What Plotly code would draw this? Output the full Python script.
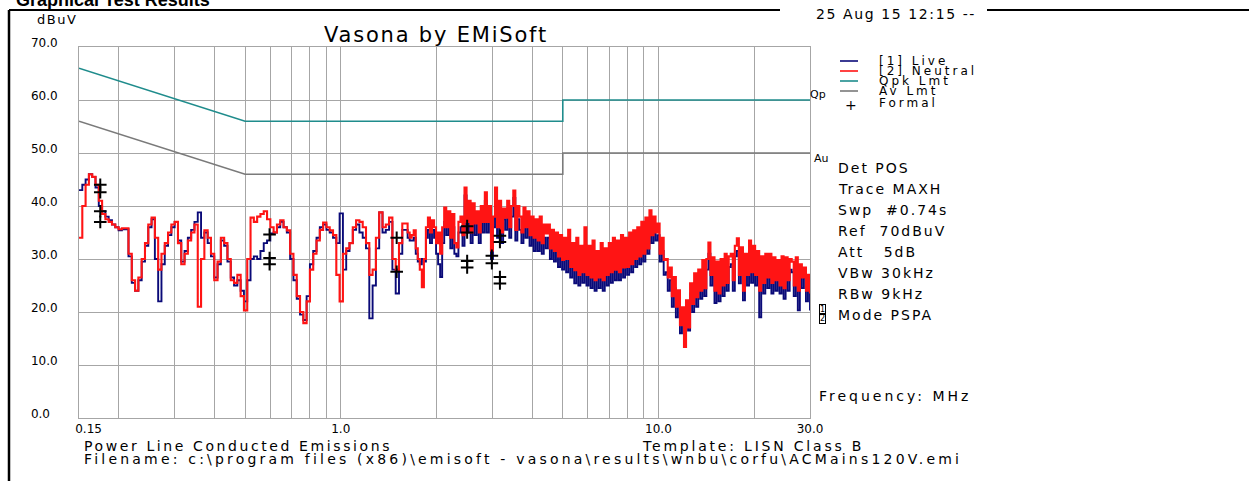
import numpy as np
import plotly.graph_objects as go

# Measured levels (dBuV).  The sweep is stored in two log-uniform parts:
# 0.15-1.6 MHz (coarse) and 1.6-30 MHz (fine).
live_low_dbuv = [
    43, 44, 45, 46, 45.5, 43.5, 40, 39, 38, 37.3,
    36.5, 36, 35.4, 35.6, 35.6, 30.5, 25.5, 24, 26, 29.5,
    32.5, 36, 37.5, 30, 22, 29, 32.5, 34.5, 36, 37,
    33.5, 29.5, 31.5, 34, 35.5, 37, 38.8, 34, 35, 33,
    30.5, 26.5, 29, 33.5, 32.5, 29.5, 26.5, 25, 26, 24,
    22, 26, 30, 30.5, 30, 31.5, 33, 33.5, 34.8, 35,
    36, 37, 36, 35, 30, 26, 22.5, 19.5, 18.5, 23,
    29, 31.5, 34, 36, 36.5, 35.5, 35, 34, 33, 38.6,
    28, 31.5, 33, 35.5, 36.5, 35, 34, 32, 18.8, 25,
    32, 38.8, 35, 35.5, 37, 28, 23.5, 31, 35.5, 35.5,
]
neutral_low_dbuv = [
    34, 40, 44, 46, 45.5, 44, 41, 38.5, 37.5, 37,
    36.5, 36, 35.6, 35.8, 35.8, 31, 26, 24, 26.5, 30,
    33, 36.5, 37.8, 34, 28, 31, 33, 35, 36.5, 37,
    33, 29, 31, 33.5, 35, 36.5, 21, 30, 35.4, 34,
    31, 26, 29.5, 34, 33, 30, 26, 25.5, 27, 23,
    20.3, 30, 37.8, 37, 38, 38.5, 39, 37.5, 36, 35,
    36.5, 37.3, 36, 35.4, 31, 27, 23, 20, 17.9, 22,
    28, 31, 33.5, 35.5, 36.9, 36, 35.4, 34.5, 27, 22,
    31, 32, 33, 36, 37.3, 37, 36, 33, 27, 28,
    34, 38.8, 36, 36.5, 37.8, 30, 28, 33, 36.7, 36.7,
]
live_high_dbuv = [
    35.5, 34, 33.5, 33.5, 34, 31, 29.5, 29, 30, 29.5,
    34, 35.5, 33, 35.5, 34, 31, 29, 26.6, 33, 37,
    34.5, 37, 32, 36, 31, 30.5, 35, 36, 32.5, 42,
    35, 39, 33, 38, 34.5, 37, 33, 38, 35, 41,
    35, 38, 30, 36, 41.5, 34, 39, 33, 37.5, 35.5,
    39, 34, 38, 41.5, 33.5, 37.5, 35.5, 33, 37.5, 34,
    36.5, 32.5, 35.5, 31.5, 35, 31.5, 35.5, 31, 34, 32,
    34, 30, 33, 29.5, 32.5, 28.5, 32, 28, 31.5, 27.5,
    32.5, 26.5, 30.5, 25.4, 31, 25, 30, 25.5, 32.5, 25,
    30, 24.5, 30.5, 24, 29, 24.5, 30.5, 24, 29.5, 25,
    30.5, 25.5, 31.5, 26, 31, 26, 32, 26.5, 31.5, 27,
    32.5, 27.5, 33, 28.5, 34, 29, 35, 29.5, 35.5, 31,
    37.5, 33, 36, 33.5, 34.5, 29.5, 31.5, 27, 27.5, 24,
    26, 21, 24.5, 19, 22, 16, 19, 14, 20.5, 16.5,
    23.5, 20, 25.5, 21, 26, 22.5, 27.5, 23, 28, 31,
    25, 28, 21.7, 27.5, 22, 28, 23, 29, 24, 28.5,
    29, 24, 30.5, 31.5, 25.4, 30, 22.2, 29, 25, 31,
    25.5, 30, 25, 29, 19, 28.5, 23.5, 29, 24.5, 28.5,
    23.5, 28, 24, 27.5, 23.5, 28.5, 22.5, 28, 24, 28,
    27.5, 23, 28.5, 20.3, 27, 24.5, 26.5, 22, 25, 20.3,
]
neutral_high_dbuv = [
    36.7, 35, 34, 34.5, 35.4, 32, 30, 28, 24.7, 30,
    36, 37.8, 35, 37.3, 36, 33, 35, 31, 36, 39.7,
    36, 39, 34, 38.5, 33, 32.2, 37, 38, 34.5, 43.5,
    37, 41, 35, 40.5, 36.7, 39, 35, 40, 37, 42.6,
    37, 40, 31.6, 38, 43.5, 36, 41, 35, 39.5, 37.8,
    41, 36, 40, 42.9, 35.5, 40, 38, 35, 39.7, 36,
    39, 34.5, 38, 34, 37.5, 33.5, 38, 33, 36.5, 34.8,
    36.5, 32, 35.5, 31.5, 35, 30.5, 34.5, 29.8, 34, 30,
    35.5, 28.5, 33, 27.9, 34, 27, 32.5, 27.5, 36, 27,
    32.5, 26.5, 33.5, 26, 31.5, 26.5, 33, 26, 32, 27,
    33, 27.5, 34, 28, 33.5, 27.5, 34.5, 28.4, 34, 28.5,
    35, 29, 35.4, 30, 36, 30.5, 37, 31, 37.8, 32,
    39.2, 34.5, 38, 35, 36.7, 31, 34, 29.8, 30, 26.5,
    28.4, 23, 26.6, 21, 24.1, 17.5, 20.9, 13.4, 22.2, 17.1,
    25.4, 21.5, 27.3, 22.8, 28, 24, 29.8, 24.5, 30, 33.1,
    27, 30.3, 24, 29.5, 23.5, 30, 25, 31, 25.5, 30.5,
    31, 26, 32.5, 33.9, 27, 32.2, 24, 31, 27, 33.5,
    27.5, 32.5, 27, 31.5, 24, 30.5, 25.5, 31, 26.5, 31,
    25.5, 30.3, 26, 29.8, 25, 30.5, 24.5, 30.3, 26, 30,
    29.5, 25, 30.3, 24, 29, 26.5, 28.4, 24, 27, 23.5,
]

# Limit lines (quasi-peak and average)
limit_mhz = [0.15, 0.5, 5.0, 5.0, 30.0]
qpk_limit_dbuv = [66, 56, 56, 60, 60]
avg_limit_dbuv = [56, 46, 46, 50, 50]

# Formal (final) measurements
formal_mhz = [0.175, 0.175, 0.175, 0.175,
              0.597, 0.597, 0.597,
              1.50, 1.50,
              2.50, 2.50, 2.50, 2.50,
              2.99, 2.99,
              3.17, 3.17, 3.17, 3.17]
formal_dbuv = [44.0, 42.6, 39.0, 37.0,
               34.6, 30.2, 29.0,
               34.0, 27.6,
               36.2, 35.0, 29.6, 28.4,
               30.6, 29.2,
               34.4, 33.2, 26.6, 25.4]

# Frequency grid lines and labelled ticks
grid_mhz = [0.15, 0.2, 0.3, 0.4, 0.5, 0.6, 0.7, 0.8, 0.9,
            1, 2, 3, 4, 5, 6, 7, 8, 9, 10, 20, 30]
grid_text = {0.15: "\u00a0" * 5 + "0.15", 1: "1.0", 10: "10.0", 30: "30.0"}
level_ticks = [0, 10, 20, 30, 40, 50, 60, 70]
level_text = ["0.0\u00a0\u00a0", "10.0", "20.0", "30.0", "40.0", "50.0",
              "60.0", "70.0"]

sweep_mhz = np.concatenate([
    np.geomspace(0.15, 1.6, len(live_low_dbuv)),
    np.geomspace(1.6, 30, len(live_high_dbuv)),
])
live_dbuv = live_low_dbuv + live_high_dbuv
neutral_dbuv = neutral_low_dbuv + neutral_high_dbuv

NAVY = "#0a0a78"
RED = "#ff1414"
TEAL = "#1f8c8c"
GREY = "#7a7a7a"
FONT = "DejaVu Sans"

W, H = 1249, 481
L, R, T, B = 79, 439, 47, 63
PW, PH = W - L - R, H - T - B


def px(x):
    return (x - L) / PW


def py(y):
    return (H - B - y) / PH


fig = go.Figure()

fig.add_trace(go.Scatter(x=limit_mhz, y=qpk_limit_dbuv, mode="lines",
                         line=dict(color=TEAL, width=1.6), name="Qpk Lmt"))
fig.add_trace(go.Scatter(x=limit_mhz, y=avg_limit_dbuv, mode="lines",
                         line=dict(color=GREY, width=1.6), name="Av Lmt"))
fig.add_trace(go.Scatter(x=sweep_mhz, y=live_dbuv, mode="lines",
                         line=dict(color=NAVY, width=1.9, shape="hv"),
                         name="[1] Live"))
fig.add_trace(go.Scatter(x=sweep_mhz, y=neutral_dbuv, mode="lines",
                         line=dict(color=RED, width=2.1, shape="hv"),
                         name="[2] Neutral"))
fig.add_trace(go.Scatter(x=formal_mhz, y=formal_dbuv, mode="markers",
                         marker=dict(symbol="cross-thin", size=9,
                                     line=dict(color="black", width=2)),
                         name="Formal"))

fig.update_xaxes(
    type="log", range=[np.log10(0.15), np.log10(30)],
    tickvals=grid_mhz, ticktext=[grid_text.get(v, "") for v in grid_mhz],
    showgrid=True, gridcolor="#a6a6a6", gridwidth=1,
    showline=True, linecolor="#a6a6a6", mirror=True, ticks="",
    tickfont=dict(family=FONT, size=12, color="black"), zeroline=False,
)
fig.update_yaxes(
    range=[0, 70], tickvals=level_ticks, ticktext=level_text,
    showgrid=True, gridcolor="#a6a6a6", gridwidth=1,
    showline=True, linecolor="#a6a6a6", mirror=True, ticks="",
    tickfont=dict(family=FONT, size=12, color="black"), zeroline=False,
    ticklabelshift=-4, ticklabelstandoff=18,
)

# Page frame: top rule (broken behind the time stamp) and left rule
shapes = [
    dict(type="line", xref="paper", yref="paper", x0=px(9), x1=px(780),
         y0=py(10), y1=py(10), line=dict(color="black", width=2)),
    dict(type="line", xref="paper", yref="paper", x0=px(987), x1=px(W),
         y0=py(10), y1=py(10), line=dict(color="black", width=2)),
    dict(type="line", xref="paper", yref="paper", x0=px(9), x1=px(9),
         y0=py(10), y1=py(H + 2), line=dict(color="black", width=2.5)),
]

annotations = []


def label(text, x, y, size=14, spacing=0.0, xanchor="left",
          yanchor="middle", **kw):
    if spacing:
        text = '<span style="letter-spacing:%.1fpx">%s</span>' % (spacing,
                                                                  text)
    annotations.append(dict(text=text, x=px(x), y=py(y), xref="paper",
                            yref="paper", showarrow=False, xanchor=xanchor,
                            yanchor=yanchor,
                            font=dict(family=FONT, size=size, color="black"),
                            **kw))


# Page header (clipped by the page top)
annotations.append(dict(text="<b>Graphical Test Results</b>", x=px(14),
                        y=py(12), xref="paper", yref="paper",
                        showarrow=False, xanchor="left", yanchor="bottom",
                        font=dict(family="Liberation Sans", size=18,
                                  color="black")))

label("25 Aug 15 12:15 --", 814, 14, size=14, spacing=1.6)
label("Vasona by EMiSoft", 436, 35, size=21, spacing=1.8, xanchor="center")
label("dBuV", 35, 19, size=13, spacing=1.5)

# Legend
legend_rows = [("[1] Live", NAVY, 61), ("[2] Neutral", RED, 71),
               ("Qpk Lmt", TEAL, 81), ("Av Lmt", GREY, 91)]
for text, color, y in legend_rows:
    shapes.append(dict(type="line", xref="paper", yref="paper",
                       x0=px(840), x1=px(858), y0=py(y), y1=py(y),
                       line=dict(color=color, width=1.6)))
    label(text, 877, y, size=12, spacing=3.0)
label("+", 851, 105, size=14, xanchor="center")
label("Formal", 877, 103, size=12, spacing=3.0)

label("Qp", 808, 94, size=11)
label("Au", 812, 158, size=11)

settings = ["Det POS", "Trace MAXH", "Swp  #0.74s", "Ref  70dBuV",
            "Att   5dB", "VBw 30kHz", "RBw 9kHz", "Mode PSPA"]
for i, text in enumerate(settings):
    label(text, 836, 168 + 21 * i, size=14, spacing=2.0)
label("1", 822, 309, size=8, xanchor="center", bordercolor="black",
      borderwidth=1, borderpad=0)
label("2", 822, 318, size=8, xanchor="center", bordercolor="black",
      borderwidth=1, borderpad=0)

label("Frequency: MHz", 817, 396, size=14, spacing=3)

label("Power Line Conducted Emissions", 82, 446, size=14, spacing=2.6)
label("Template: LISN Class B", 640, 446, size=14, spacing=2.8)
label("Filename: c:\\program files (x86)\\emisoft - vasona\\results"
      "\\wnbu\\corfu\\ACMains120V.emi", 82, 459, size=14, spacing=3.2)

fig.update_layout(
    width=W, height=H, margin=dict(l=L, r=R, t=T, b=B),
    paper_bgcolor="white", plot_bgcolor="white", showlegend=False,
    shapes=shapes, annotations=annotations,
    font=dict(family=FONT, color="black"),
)

fig.write_html("out.html")
